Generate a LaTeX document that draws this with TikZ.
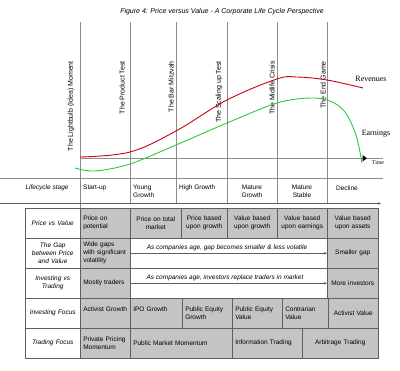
\documentclass[tikz,border=0pt]{standalone}
\usepackage{fontspec}
\setmainfont{Liberation Serif}
\setsansfont{Liberation Sans}
\usetikzlibrary{arrows.meta}
\definecolor{cellgray}{RGB}{196,196,196}
\definecolor{linegray}{RGB}{95,95,95}
\definecolor{vgray}{RGB}{140,140,140}
\definecolor{revred}{RGB}{200,0,20}
\definecolor{earngreen}{RGB}{50,200,50}
\newcommand\cellfont{\sffamily\fontsize{6.5}{8}\selectfont}
\newcommand\vlblfont{\sffamily\fontsize{7}{8}\selectfont}
\begin{document}
\begin{tikzpicture}[x=1pt,y=-1pt,
  cellbase/.style={draw=linegray, line width=0.5pt, anchor=north west, inner xsep=3pt, inner ysep=0pt, minimum height=30pt, font=\cellfont},
  gcell/.style={cellbase, fill=cellgray},
  wcell/.style={cellbase, fill=white},
  lab/.style={wcell, font=\cellfont\itshape, align=center, text width=49pt},
  vline/.style={draw=vgray, line width=0.6pt},
  vlbl/.style={font=\vlblfont, rotate=90, anchor=east, inner sep=0pt},
  stage/.style={font=\cellfont, inner sep=0pt},
  arr/.style={draw=linegray, line width=0.5pt, -{Stealth[length=3pt,width=2.5pt]}},
  curvelbl/.style={font=\fontsize{8}{9}\selectfont, inner sep=0pt}
]
\useasboundingbox (0,0) rectangle (400,371);

% title
\node[font=\sffamily\itshape\fontsize{7}{8}\selectfont] (title) at (222,12) {Figure 4: Price versus Value - A Corporate Life Cycle Perspective};

% vertical milestone lines
\draw[vline] (80,22) -- (80,208);
\foreach \xx in {130,176,227,277,327} \draw[vline] (\xx,22) -- (\xx,203.5);

% milestone labels
\node[vlbl] (m1) at (71,61) {The Lightbulb (Idea) Moment};
\node[vlbl] (m2) at (122,61) {The Product Test};
\node[vlbl] (m3) at (171,61) {The Bar Mitzvah};
\node[vlbl] (m4) at (219,61) {The Scaling up Test};
\node[vlbl] (m5) at (272,61) {The Midlife Crisis};
\node[vlbl] (m6) at (323,61) {The End Game};

% time axis
\draw[vline] (80,158) -- (383,158);
\fill (362.5,155) -- (367,158.3) -- (362.5,161.5) -- cycle;
\node[font=\fontsize{5.8}{7}\selectfont, inner sep=0pt] (time) at (378,163) {Time};

% curves
\draw[revred, line width=0.9pt] plot[smooth, tension=0.6] coordinates {(80,157) (130,152) (176,131) (227,100) (277,79) (297,77) (327,80) (363,88)};
\draw[earngreen, line width=0.9pt] plot[smooth, tension=0.55] coordinates {(75,168) (95,171) (130,164) (176,145) (227,123) (277,103) (310,98) (330,101) (345,112) (356,135) (362,163)};
\node[curvelbl] (rev) at (371,79) {Revenues};
\node[curvelbl] (earn) at (376,134) {Earnings};

% lifecycle row
\draw[vline] (0,178) -- (383,178);
\draw[arr] (0,203.5) -- (381,203.5);
\node[stage, font=\cellfont\itshape] (ls) at (47,188) {Lifecycle stage};
\node[stage, anchor=west] (s1) at (83,188) {Start-up};
\node[stage, anchor=west, align=left] (s2) at (133,191.5) {Young\\Growth};
\node[stage, anchor=west] (s3) at (179,188) {High Growth};
\node[stage, align=center] (s4) at (252,191.5) {Mature\\Growth};
\node[stage, align=center] (s5) at (302,191.5) {Mature\\Stable};
\node[stage] (s6) at (347,188) {Decline};

% row 1
\node[lab] (l1) at (25,208) {Price vs Value};
\node[gcell, text width=44pt, align=left] (p1) at (80,208) {Price on\\potential};
\node[gcell, text width=45pt, align=center] (p2) at (130,208) {Price on total\\market};
\node[gcell, text width=40pt, align=center] (p3) at (181,208) {Price based\\upon growth};
\node[gcell, text width=44pt, align=center] (p4) at (227,208) {Value based\\upon growth};
\node[gcell, text width=44pt, align=center] (p5) at (277,208) {Value based\\upon~earnings};
\node[gcell, text width=45pt, align=center] (p6) at (327,208) {Value based\\upon assets};

% row 2
\node[lab] (l2) at (25,238) {The Gap\\between Price\\and Value};
\node[gcell, text width=44pt, align=left] (g1) at (80,238) {Wide gaps\\with~significant\\volatility};
\node[wcell, minimum width=197pt] (g2) at (130,238) {};
\node[gcell, text width=45pt, align=center] (g3) at (327,238) {Smaller gap};
\node[font=\cellfont\itshape, inner sep=0pt] (gtxt) at (227,247.5) {As companies age, gap becomes smaller \& less volatile};
\draw[arr] (g2.west) -- (g3.west);

% row 3
\node[lab] (l3) at (25,268) {Investing vs\\Trading};
\node[gcell, text width=44pt, align=left] (t1) at (80,268) {Mostly~traders};
\node[wcell, minimum width=197pt] (t2) at (130,268) {};
\node[gcell, text width=45pt, align=center] (t3) at (327,268) {More~investors};
\node[font=\cellfont\itshape, inner sep=0pt] (ttxt) at (225,277.5) {As companies age, investors replace traders in market};
\draw[arr] (t2.west) -- (t3.west);

% row 4
\node[lab] (l4) at (25,298) {Investing Focus};
\node[gcell, text width=44pt, align=left] (i1) at (80,298) {Activist~Growth\\~};
\node[gcell, text width=46pt, align=left] (i2) at (130,298) {IPO Growth\\~};
\node[gcell, text width=44pt, align=left] (i3) at (182,298) {Public Equity\\Growth};
\node[gcell, text width=44pt, align=left] (i4) at (232,298) {Public Equity\\Value};
\node[gcell, text width=40pt, align=left] (i5) at (282,298) {Contrarian\\Value};
\node[gcell, text width=44pt, align=center] (i6) at (328,298) {Activist~Value};

% row 5
\node[lab] (l5) at (25,328) {Trading Focus};
\node[gcell, text width=44pt, align=left] (f1) at (80,328) {Private~Pricing\\Momentum};
\node[gcell, text width=96pt, align=left] (f2) at (130,328) {Public Market Momentum};
\node[gcell, text width=64pt, align=left] (f3) at (232,328) {Information Trading};
\node[gcell, text width=70pt, align=center] (f4) at (302,328) {Arbitrage Trading};
\end{tikzpicture}
\end{document}
